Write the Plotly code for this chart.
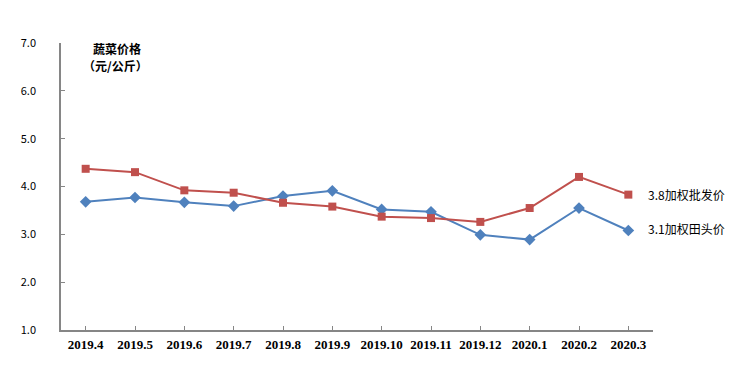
import plotly.graph_objects as go

months = ["2019.4", "2019.5", "2019.6", "2019.7", "2019.8", "2019.9", "2019.10",
          "2019.11", "2019.12", "2020.1", "2020.2", "2020.3"]
wholesale = [4.37, 4.30, 3.92, 3.87, 3.66, 3.58, 3.37, 3.34, 3.26, 3.55, 4.20, 3.83]
farmgate = [3.68, 3.77, 3.67, 3.59, 3.80, 3.91, 3.52, 3.47, 2.99, 2.89, 3.55, 3.08]
wholesale_label = "3.8加权批发价"
farmgate_label = "3.1加权田头价"
y_ticks = [1.0, 2.0, 3.0, 4.0, 5.0, 6.0, 7.0]
title_line1 = "蔬菜价格"
title_line2 = "（元/公斤）"

RED = "#C0504D"
BLUE = "#4F81BD"
AXIS = "#868686"

fig = go.Figure()
fig.add_trace(go.Scatter(
    x=list(range(len(months))), y=farmgate, mode="lines+markers",
    line=dict(color=BLUE, width=2),
    marker=dict(symbol="diamond", size=9, color=BLUE),
    showlegend=False, hoverinfo="skip"))
fig.add_trace(go.Scatter(
    x=list(range(len(months))), y=wholesale, mode="lines+markers",
    line=dict(color=RED, width=2),
    marker=dict(symbol="square", size=8, color=RED),
    showlegend=False, hoverinfo="skip"))

fig.add_annotation(x=1.0, xref="paper", xshift=-7, xanchor="left",
                   y=wholesale[-1], yref="y", text=wholesale_label, showarrow=False,
                   font=dict(family="Noto Sans CJK SC", size=12, color="#000"))
fig.add_annotation(x=1.0, xref="paper", xshift=-7, xanchor="left",
                   y=farmgate[-1], yref="y", yshift=2, text=farmgate_label, showarrow=False,
                   font=dict(family="Noto Sans CJK SC", size=12, color="#000"))
fig.add_annotation(x=0.095, xref="paper", xanchor="center",
                   y=1.0, yref="paper", yanchor="middle", yshift=-5,
                   text="<b>" + title_line1 + "</b>", showarrow=False,
                   font=dict(family="Noto Sans CJK SC", size=12, color="#000"))
fig.add_annotation(x=0.092, xref="paper", xanchor="center",
                   y=1.0, yref="paper", yanchor="middle", yshift=-22,
                   text="<b>" + title_line2 + "</b>", showarrow=False,
                   font=dict(family="Noto Sans CJK SC", size=12, color="#000"))

fig.update_layout(
    width=742, height=360,
    margin=dict(l=53, r=97, t=35, b=38),
    paper_bgcolor="white", plot_bgcolor="white",
    xaxis=dict(
        tickmode="array", tickvals=list(range(len(months))), ticktext=months,
        range=[-0.5, len(months) - 0.5], showgrid=False, zeroline=False,
        showline=True, linecolor=AXIS, linewidth=1.5,
        ticks="inside", ticklen=4, tickcolor=AXIS,
        tickfont=dict(family="Liberation Serif", size=13, color="#000", weight="bold"),
        ticklabelstandoff=2,
    ),
    yaxis=dict(
        tickmode="array", tickvals=y_ticks, ticktext=[f"{v:.1f}" for v in y_ticks],
        range=[1.0, 7.0], showgrid=False, zeroline=False,
        showline=True, linecolor=AXIS, linewidth=1.5,
        ticks="inside", ticklen=4, tickcolor=AXIS,
        tickfont=dict(family="Noto Sans CJK SC", size=11, color="#000"),
        ticklabelstandoff=21,
    ),
)

fig.write_html("out.html")
